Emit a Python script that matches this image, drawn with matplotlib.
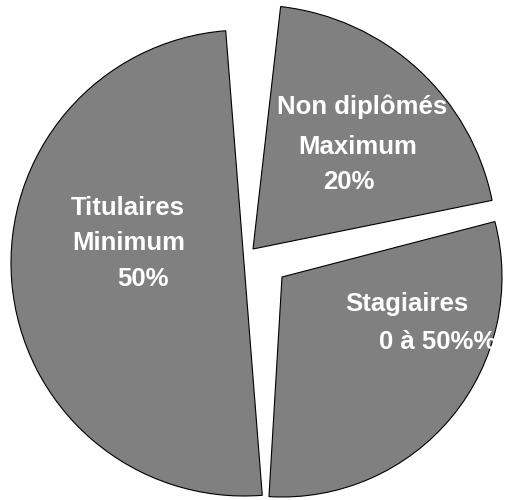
import matplotlib
matplotlib.use("Agg")
import matplotlib.pyplot as plt

plt.rcParams['font.family'] = ['Liberation Sans', 'DejaVu Sans']

# data
categories = ['Non diplômés', 'Titulaires', 'Stagiaires']
values = [20, 50, 30]
label_lines = [
    ['Non diplômés', 'Maximum', '20%'],
    ['Titulaires', 'Minimum', '50%'],
    ['Stagiaires', '0 à 50%%'],
]

# the slices in the original are placed by hand, so each gets its own
# start angle, apex (pixels, top-left origin) and radius
start_angles = [11.5, 94.5, 266.6]
apex = [(253, 249), (244, 263), (282, 277)]
radii = [244, 233, 220]

# left x / center y of each text line, in pixels (top-left origin)
label_pos = [
    [(277, 107), (298, 147), (323, 182)],
    [(71, 208), (72, 243), (117, 279)],
    [(345, 304), (379, 342)],
]

W, H = 507, 500
fig = plt.figure(figsize=(W / 100, H / 100), dpi=100)
ax = fig.add_axes([0, 0, 1, 1])

total = sum(values)
for v, a, (cx, cy), r in zip(values, start_angles, apex, radii):
    ax.pie([v / total], normalize=False, startangle=a,
           center=(cx, H - cy), radius=r, frame=True,
           colors=['#808080'],
           wedgeprops=dict(edgecolor='black', linewidth=0.8))

for lines, pos in zip(label_lines, label_pos):
    for txt, (x, y) in zip(lines, pos):
        ax.text(x, H - y, txt, color='white', fontsize=18.5,
                fontweight='bold', ha='left', va='center', zorder=5)

ax.set_xlim(0, W)
ax.set_ylim(0, H)
ax.set_aspect('equal')
ax.axis('off')

fig.savefig('out.png', dpi=100)
